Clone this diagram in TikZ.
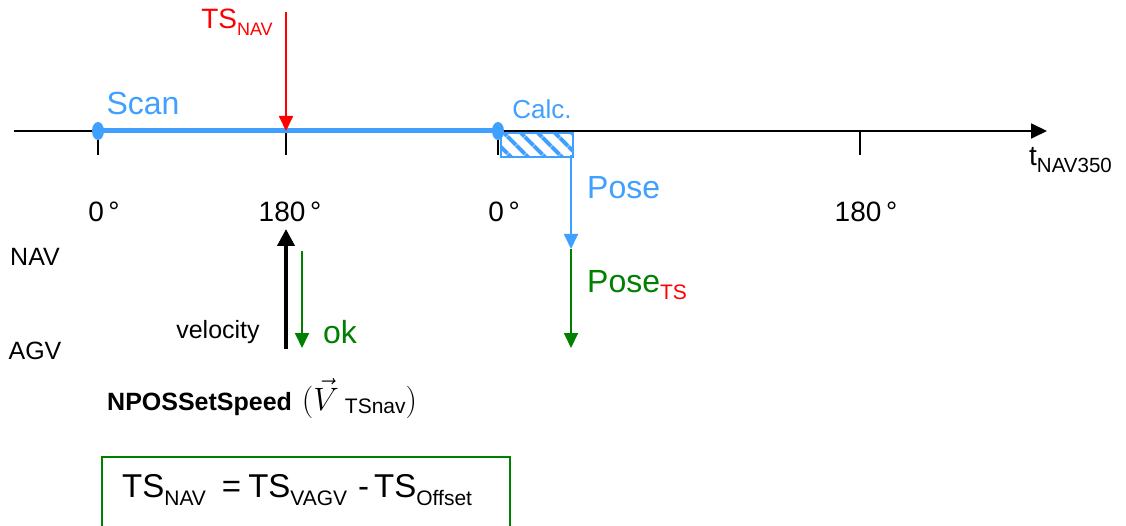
\documentclass[tikz,border=0pt]{standalone}
\usepackage{graphicx}
\usepackage{fontspec}
\setmainfont{Liberation Sans}
\usetikzlibrary{arrows.meta,patterns.meta,shapes.geometric}
\definecolor{myblue}{RGB}{64,160,255}
\definecolor{mygreen}{RGB}{0,128,0}
\definecolor{myred}{RGB}{255,0,0}
\newcommand{\fs}[1]{\fontsize{#1}{#1}\selectfont}
\tikzset{
  lbl/.style={inner sep=0pt, font=\fs{28}},
  tick/.style={line width=1.6pt, black},
  axis/.style={line width=1.8pt, -{Triangle[length=16pt,width=15pt]}},
  thinarrow/.style={line width=1.8pt, -{Triangle[length=15pt,width=14pt]}},
  dot/.style={fill=myblue, ellipse, minimum width=12pt, minimum height=18pt, inner sep=0pt},
}
\begin{document}
\begin{tikzpicture}[x=1pt,y=-1pt]
\useasboundingbox (0,0) rectangle (1126,526);
\clip (0,0) rectangle (1126,526);
% coordinates
\coordinate (axL) at (14,131);
\coordinate (axR) at (1047,131);
\coordinate (t0a) at (98,131);
\coordinate (t180a) at (286,131);
\coordinate (t0b) at (498,131);
\coordinate (t180b) at (860,131);
\coordinate (t0aB) at (98,155);
\coordinate (t180aB) at (286,155);
\coordinate (t0bB) at (498,155);
\coordinate (t180bB) at (860,155);
\coordinate (redtop) at (286,12);
\coordinate (poseTop) at (571,155);
\coordinate (poseMid) at (571,249);
\coordinate (poseBot) at (571,348);
\coordinate (velBot) at (286,349);
\coordinate (velTop) at (286,229);
\coordinate (okTop) at (302,251);
\coordinate (okBot) at (302,348);
% axis
\draw[axis] (axL) -- (axR);
\draw[tick] (t0a) -- (t0aB);
\draw[tick] (t180a) -- (t180aB);
\draw[tick] (t0b) -- (t0bB);
\draw[tick] (t180b) -- (t180bB);
% calc box
\node[draw=myblue, line width=1.8pt, minimum width=72pt, minimum height=24pt, inner sep=0pt, anchor=north west,
  pattern={Lines[angle=-45,distance=13pt,line width=4.5pt]}, pattern color=myblue] (calcbox) at (499,131) {};
% scan line
\draw[myblue, line width=5pt] (t0a) -- (t0b);
\node[dot] (dotA) at (t0a) {};
\node[dot] (dotB) at (t0b) {};
% red arrow
\draw[myred, thinarrow] (redtop) -- (t180a);
\node[lbl, myred, font=\fs{28}] (tsnav) at (237,22) {TS\raisebox{-0.45ex}{\fs{18}NAV}};
% labels
\node[lbl, myblue, font=\fs{32}] (scan) at (143,103) {Scan};
\node[lbl, myblue, font=\fs{26}] (calc) at (542,109) {Calc.};
\node[lbl] (l0a) at (104,212) {0\,°};
\node[lbl] (l180a) at (290,212) {180\,°};
\node[lbl] (l0b) at (504,212) {0\,°};
\node[lbl] (l180b) at (866,212) {180\,°};
\node[lbl, font=\fs{25}] (nav) at (35,257) {NAV};
\node[lbl, font=\fs{25}] (agv) at (35,351) {AGV};
\node[lbl, anchor=west, font=\fs{28}] (tlab) at (1029,160) {t\raisebox{-0.45ex}{\fs{20.5}NAV350}};
% pose arrows
\draw[myblue, thinarrow] (poseTop) -- (poseMid);
\draw[mygreen, thinarrow] (poseMid) -- (poseBot);
\node[lbl, myblue, font=\fs{32}, anchor=west] (pose) at (587,188) {Pose};
\node[lbl, mygreen, font=\fs{32}, anchor=west] (posets) at (587,285) {Pose\raisebox{-0.45ex}{\color{myred}\fs{21}TS}};
% velocity / ok
\draw[line width=4pt, -{Triangle[length=17pt,width=17pt]}] (velBot) -- (velTop);
\draw[mygreen, thinarrow] (okTop) -- (okBot);
\node[lbl, font=\fs{25}] (vel) at (218,332) {velocity};
\node[lbl, mygreen, font=\fs{32}] (ok) at (340,332) {ok};
% NPOSSetSpeed
\node[lbl, anchor=base west, font=\fs{25}] (npos) at (107,410) {\textbf{NPOSSetSpeed}\hspace{10pt}\scalebox{1.3}{$(\vec{V}$}\hspace{6pt}\raisebox{-0.3ex}{\fs{21}TSnav}\scalebox{1.3}{$)$}};
% formula box
\draw[mygreen, line width=2pt] (102,540) |- (510,457) -- (510,540);
\node[lbl, anchor=west, font=\fs{33}] (formula) at (122,490) {TS\raisebox{-0.5ex}{\fs{21}NAV}\hspace{16pt}=\hspace{7pt}TS\raisebox{-0.5ex}{\fs{21}VAGV}\hspace{11pt}-\hspace{5pt}TS\raisebox{-0.5ex}{\fs{21}Offset}};
\end{tikzpicture}
\end{document}
